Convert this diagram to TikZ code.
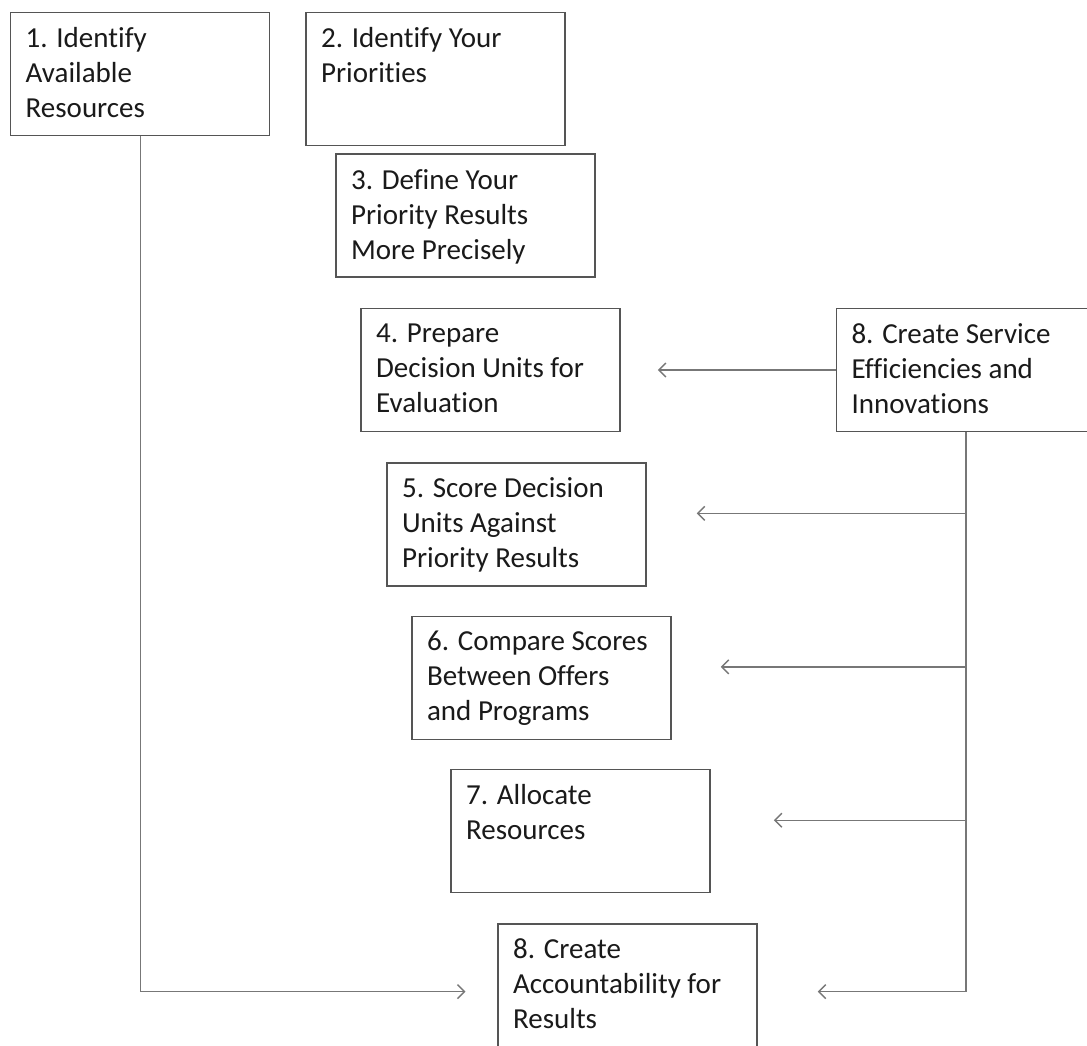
\documentclass[tikz,border=0pt]{standalone}
\usepackage{fontspec}
\setmainfont{Carlito}[Ligatures=NoCommon]
\usepackage{tikz}
\usetikzlibrary{arrows.meta,positioning}
\definecolor{boxgray}{HTML}{555555}
\definecolor{linegray}{HTML}{777777}
\definecolor{textgray}{HTML}{1A1A1A}
\newcommand{\steptext}[2][93pt]{\parbox[c][#1][t]{229pt}{\raggedright #2}}
\tikzset{
    stepbox/.style={
           rectangle,
           draw=boxgray, line width=1.4pt,
           text=textgray,
           inner xsep=15pt,
           inner ysep=15pt,
           font=\fontsize{29}{35}\selectfont},
    link/.style={
           -{Straight Barb[length=7pt,width=14pt]},
           draw=linegray,
           line width=1.4pt}
}

\begin{document}
\begin{tikzpicture}[x=1pt, y=-1pt]
	\useasboundingbox (0,0) rectangle (1087,1045);
	\fill[white] (0,0) rectangle (1087,1045);
	\clip (0,0) rectangle (1087,1045);
	\node[stepbox, anchor=north west] (s1) at (10,12) {\steptext{1. Identify\\Available\\Resources}};
	\node[stepbox, below right=0pt and 35pt of s1.north east] (s2) {\steptext[103pt]{2. Identify Your\\Priorities}};
	\node[stepbox, below right=7pt and 30pt of s2.south west] (s3) {\steptext{3. Define Your\\Priority Results\\More Precisely}};
	\node[stepbox, below right=30pt and 25pt of s3.south west] (s4) {\steptext{4. Prepare\\Decision Units for\\Evaluation}};
	\node[stepbox, below right=0pt and 215pt of s4.north east] (s8a) {\steptext{8. Create Service\\Efficiencies and\\Innovations}};
	\node[stepbox, below right=30pt and 26pt of s4.south west] (s5) {\steptext{5. Score Decision\\Units Against\\Priority Results}};
	\node[stepbox, below right=29pt and 25pt of s5.south west] (s6) {\steptext{6. Compare Scores\\Between Offers\\and Programs}};
	\node[stepbox, below right=29pt and 39pt of s6.south west] (s7) {\steptext{7. Allocate\\Resources}};
	\node[stepbox, below right=30pt and 47pt of s7.south west] (s8b) {\steptext{8. Create\\Accountability for\\Results}};
	% arrow heights
	\coordinate[above=11pt of s5.east] (t5);
	\coordinate[above=11pt of s6.east] (t6);
	\coordinate[above=11pt of s7.east] (t7);
	\coordinate[below=6pt of s8b.east] (t8);
	\draw[link, shorten >=37pt] (s8a.west) -- (s8a.west -| s4.east);
	\draw[link, shorten >=50pt] (s8a.south |- t5) -- (t5);
	\draw[link, shorten >=49pt] (s8a.south |- t6) -- (t6);
	\draw[link, shorten >=63pt] (s8a.south |- t7) -- (t7);
	\draw[link, shorten >=60pt] (s8a.south) |- (t8);
	\draw[link, shorten >=32pt] (s1.south) |- (s8b.west |- t8);
\end{tikzpicture}
\end{document}
